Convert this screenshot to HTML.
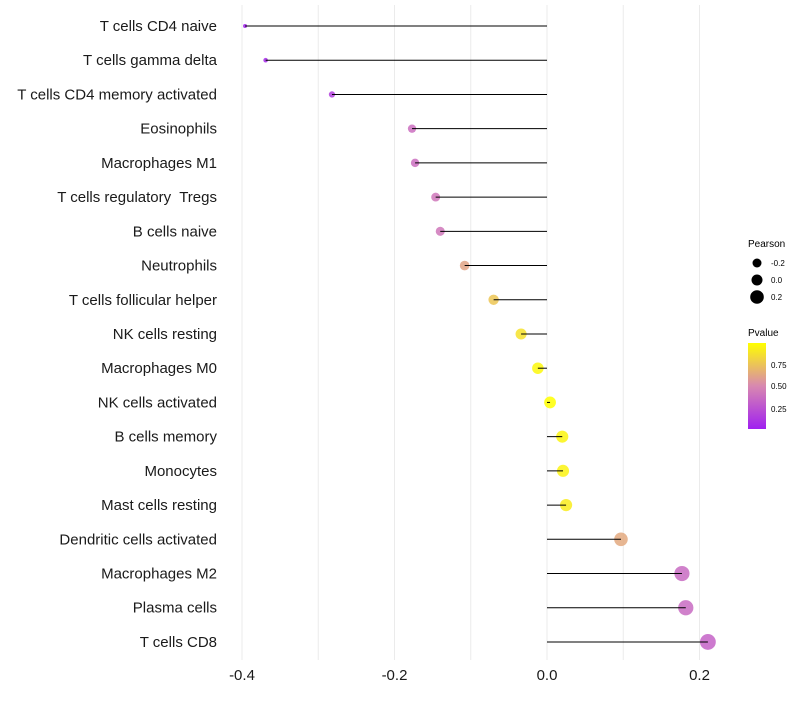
<!DOCTYPE html>
<html><head><meta charset="utf-8"><style>
body{margin:0;background:#fff;font-family:"Liberation Sans",sans-serif}
text{white-space:pre}
</style></head><body>
<svg id="chart" width="800" height="700" xmlns="http://www.w3.org/2000/svg">
<defs><linearGradient id="pg" x1="0" y1="1" x2="0" y2="0">
<stop offset="0" stop-color="#a020f0"/><stop offset="0.5" stop-color="#d888b0"/><stop offset="1" stop-color="#ffff00"/>
</linearGradient></defs>
<g id="grid"></g><g id="pts"></g><g id="marks"></g><g id="labels"></g><g id="xticks"></g>
<g font-size="10">
<text x="748" y="247" font-size="10">Pearson</text>
<circle cx="757" cy="263" r="4.5" fill="#000"/><text x="771" y="266" font-size="8">-0.2</text>
<circle cx="757" cy="280" r="5.5" fill="#000"/><text x="771" y="283" font-size="8">0.0</text>
<circle cx="757" cy="297" r="6.8" fill="#000"/><text x="771" y="300" font-size="8">0.2</text>
<text x="748" y="336" font-size="10">Pvalue</text>
<rect x="748" y="343" width="18" height="86" fill="url(#pg)"/>
<text x="771" y="368" font-size="8">0.75</text>
<text x="771" y="389" font-size="8">0.50</text>
<text x="771" y="412" font-size="8">0.25</text>
</g>
</svg>
<script>
const categories=["T cells CD4 naive","T cells gamma delta","T cells CD4 memory activated","Eosinophils","Macrophages M1","T cells regulatory  Tregs","B cells naive","Neutrophils","T cells follicular helper","NK cells resting","Macrophages M0","NK cells activated","B cells memory","Monocytes","Mast cells resting","Dendritic cells activated","Macrophages M2","Plasma cells","T cells CD8"];
const pearson=[-0.396,-0.369,-0.282,-0.177,-0.173,-0.146,-0.140,-0.108,-0.070,-0.034,-0.012,0.004,0.020,0.021,0.025,0.097,0.177,0.182,0.211];
const pvalue=[0.02,0.05,0.15,0.38,0.38,0.42,0.42,0.62,0.76,0.88,0.97,1.0,0.96,0.95,0.92,0.64,0.36,0.36,0.32];
const xTicks=[-0.4,-0.2,0.0,0.2];
const gridVals=[-0.4,-0.3,-0.2,-0.1,0,0.1,0.2];
const NS="http://www.w3.org/2000/svg";
const x=v=>547+v*762.5;
const y=i=>26+i*34.22;
const rad=v=>2+(v+0.4)/0.6*5.8;
function lerp(a,b,t){return a.map((c,k)=>Math.round(c+(b[k]-c)*t));}
function col(p){const s=[[160,32,240],[216,136,176],[255,255,0]];const c=p<0.5?lerp(s[0],s[1],p/0.5):lerp(s[1],s[2],(p-0.5)/0.5);return `rgb(${c})`;}
function mk(tag,attrs,parent){const e=document.createElementNS(NS,tag);for(const k in attrs)e.setAttribute(k,attrs[k]);parent.appendChild(e);return e;}
const G=document.getElementById('grid'),P=document.getElementById('pts'),M=document.getElementById('marks'),L=document.getElementById('labels'),X=document.getElementById('xticks');
gridVals.forEach(v=>{const l=mk('line',{x1:x(v),x2:x(v),y1:5,y2:660,stroke:'#ebebeb','stroke-width':1},G);

});
categories.forEach((c,i)=>{
const pt=mk('circle',{cx:x(pearson[i]),cy:y(i),r:rad(pearson[i]),fill:col(pvalue[i]),'fill-opacity':0.85},P);


const ln=mk('line',{x1:x(0),x2:x(pearson[i]),y1:y(i),y2:y(i),stroke:'#000','stroke-width':1},M);


const t=mk('text',{x:217,y:y(i)+5,'text-anchor':'end','font-size':15,fill:'#1a1a1a'},L);
t.textContent=c;


});
xTicks.forEach(v=>{const t=mk('text',{x:x(v),y:680,'text-anchor':'middle','font-size':15,fill:'#1a1a1a'},X);
t.textContent=v.toFixed(1);

});
</script>
</body></html>
